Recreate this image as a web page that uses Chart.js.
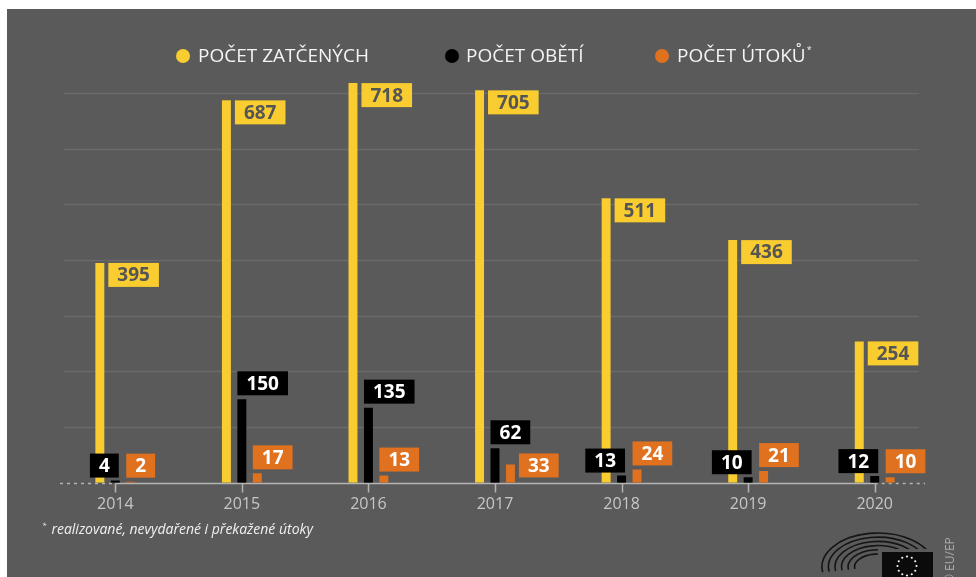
<!DOCTYPE html>
<html>
<head>
<meta charset="utf-8">
<script src="https://cdn.jsdelivr.net/npm/chart.js@4.4.0/dist/chart.umd.min.js"></script>
<style>
  body { margin: 0; background: #fff; width: 976px; height: 577px; overflow: hidden; position: relative; font-family: "Open Sans", sans-serif; }
  #panel { position: absolute; left: 7px; top: 9px; right: 0; bottom: 0; background: #5a5a5a; }
  #chart { position: absolute; left: 0; top: 0; }
  .leg { position: absolute; top: 42px; color: #f4f4f4; font-size: 19px; white-space: nowrap; }
  .dot { position: absolute; top: 49px; width: 14px; height: 14px; border-radius: 50%; }
  .leg sup { font-size: 9px; vertical-align: 9px; margin-left: 1px; }
  #note { position: absolute; left: 42px; top: 519px; color: #f0f0f0; font-size: 14px; font-style: italic; }
  #note sup { font-size: 8px; vertical-align: 6px; margin-right: 5px; }
  #copy { position: absolute; left: 941px; top: 584px; color: #a8a8a8; font-size: 12px; transform: rotate(-90deg); transform-origin: 0 0; white-space: nowrap; }
</style>
</head>
<body>
<div id="panel"></div>
<canvas id="chart" width="976" height="577"></canvas>

<span class="dot" style="left:176px;background:#f9cc2f"></span>
<span class="leg" style="left:198px">POČET ZATČENÝCH</span>
<span class="dot" style="left:445px;background:#000"></span>
<span class="leg" style="left:466px">POČET OBĚTÍ</span>
<span class="dot" style="left:655px;background:#e0711f"></span>
<span class="leg" style="left:677px">POČET ÚTOKŮ<sup>*</sup></span>

<div id="note"><sup>*</sup>realizované, nevydařené i překažené útoky</div>
<div id="copy">© EU/EP</div>

<script>
var years = ["2014", "2015", "2016", "2017", "2018", "2019", "2020"];
var arrests = [395, 687, 718, 705, 511, 436, 254];
var victims = [4, 150, 135, 62, 13, 10, 12];
var attacks = [2, 17, 13, 33, 24, 21, 10];

var yellow = "#f9cc2f";
var orange = "#e0711f";
var gridColor = "#6a6a6a";
var axisColor = "#b4b4b4";

// gridlines + the baseline with its tick marks (drawn by hand to get the dotted ends)
var axisPlugin = {
    id: "axisPlugin",
    beforeDatasetsDraw: function(chart) {
        var ctx = chart.ctx;
        var area = chart.chartArea;
        var xs = chart.scales.x, ys = chart.scales.y;
        ctx.save();
        ctx.strokeStyle = gridColor;
        ctx.lineWidth = 1.5;
        ys.ticks.forEach(function(t) {
            if (t.value > 0 && t.value % 100 === 0) {
                var py = Math.round(ys.getPixelForValue(t.value)) + 0.5;
                ctx.beginPath();
                ctx.moveTo(area.left + 12, py);
                ctx.lineTo(area.right - 19, py);
                ctx.stroke();
            }
        });
        var base = Math.round(ys.getPixelForValue(0)) + 0.5;
        var x0 = xs.getPixelForValue(0);
        var xN = xs.getPixelForValue(years.length - 1);
        ctx.strokeStyle = axisColor;
        ctx.lineWidth = 1.5;
        ctx.setLineDash([3, 4]);
        ctx.beginPath();
        ctx.moveTo(area.left + 8, base); ctx.lineTo(x0, base);
        ctx.moveTo(xN, base); ctx.lineTo(area.right - 13, base);
        ctx.stroke();
        ctx.setLineDash([]);
        ctx.beginPath();
        ctx.moveTo(x0, base); ctx.lineTo(xN, base);
        for (var i = 0; i < years.length; i++) {
            var px = Math.round(xs.getPixelForValue(i)) + 0.5;
            ctx.moveTo(px, base); ctx.lineTo(px, base + 9);
        }
        ctx.stroke();
        ctx.restore();
    }
};

function box(ctx, text, left, top, bg, fg) {
    var w = ctx.measureText(text).width + 18;
    ctx.fillStyle = bg;
    ctx.fillRect(left, top, w, 24);
    ctx.fillStyle = fg;
    ctx.fillText(text, left + w / 2, top + 13);
    return { l: left, t: top, r: left + w, b: top + 24 };
}

function overlaps(a, b) {
    return a.l < b.r && b.l < a.r && a.t < b.b && b.t < a.b;
}

var labelPlugin = {
    id: "labelPlugin",
    afterDatasetsDraw: function(chart) {
        var ctx = chart.ctx;
        var yM = chart.getDatasetMeta(0).data;
        var bM = chart.getDatasetMeta(1).data;
        var oM = chart.getDatasetMeta(2).data;
        ctx.save();
        ctx.font = "bold 19px 'Open Sans'";
        ctx.textAlign = "center";
        ctx.textBaseline = "middle";
        for (var i = 0; i < years.length; i++) {
            var yb = yM[i];
            box(ctx, String(arrests[i]), yb.x + yb.width / 2 + 4, yb.y, yellow, "#555");

            var bb = bM[i];
            var bt = String(victims[i]);
            var bw = ctx.measureText(bt).width + 18;
            var bl = victims[i] < 20 ? bb.x + bb.width / 2 - 1 - bw : bb.x - bb.width / 2;
            var gap = victims[i] < 20 ? 3 : 4;
            var bRect = box(ctx, bt, bl, bb.y - gap - 24, "#000", "#fff");

            var ob = oM[i];
            var ot = String(attacks[i]);
            var ow = ctx.measureText(ot).width + 18;
            var oRect = { l: ob.x - ob.width / 2, t: ob.y - 28, r: ob.x - ob.width / 2 + ow, b: ob.y - 4 };
            if (overlaps(oRect, bRect)) {
                box(ctx, ot, ob.x + ob.width / 2 + 4, ob.y - 11, orange, "#fff");
            } else {
                box(ctx, ot, oRect.l, oRect.t, orange, "#fff");
            }
        }
        ctx.restore();
    }
};

// European Parliament hemicycle + flag in the corner
var logoPlugin = {
    id: "logoPlugin",
    afterDraw: function(chart) {
        var ctx = chart.ctx;
        ctx.save();
        var cx = 878, cy = 567;
        ctx.strokeStyle = "#151515";
        ctx.lineWidth = 1.6;
        for (var k = 0; k < 6; k++) {
            ctx.beginPath();
            ctx.ellipse(cx, cy, 56 - k * 6.5, 34 - k * 4.2, 0, Math.PI * 0.95, Math.PI * 2.05);
            ctx.stroke();
        }
        ctx.fillStyle = "#5a5a5a";
        ctx.fillRect(878, 549, 60, 28);
        ctx.fillStyle = "#0b0b0b";
        ctx.fillRect(882, 552, 51, 25);
        ctx.fillStyle = "#f3f3f3";
        for (var s = 0; s < 12; s++) {
            var a = s * Math.PI / 6;
            ctx.beginPath();
            ctx.arc(907 + Math.cos(a) * 9.5, 566 + Math.sin(a) * 9.5, 1.1, 0, Math.PI * 2);
            ctx.fill();
        }
        ctx.restore();
    }
};

var ctx = document.getElementById("chart").getContext("2d");
var myChart = new Chart(ctx, {
    type: "bar",
    data: {
        labels: years,
        datasets: [
            { label: "POČET ZATČENÝCH", data: arrests, backgroundColor: yellow },
            { label: "POČET OBĚTÍ", data: victims, backgroundColor: "#000" },
            { label: "POČET ÚTOKŮ", data: attacks, backgroundColor: orange }
        ]
    },
    options: {
        responsive: false,
        animation: false,
        layout: { padding: { left: 52, right: 38, top: 82, bottom: 51 } },
        datasets: {
            bar: { categoryPercentage: 0.366, barPercentage: 0.58 }
        },
        plugins: {
            legend: { display: false },
            tooltip: { enabled: false }
        },
        scales: {
            x: {
                grid: { display: false, drawTicks: false },
                border: { display: false },
                ticks: { color: "#c6c6c6", padding: 12, font: { family: "'Open Sans'", size: 16 } }
            },
            y: {
                display: false,
                min: 0,
                max: 720,
                ticks: { stepSize: 100, includeBounds: false }
            }
        }
    },
    plugins: [axisPlugin, labelPlugin, logoPlugin]
});
</script>
</body>
</html>
